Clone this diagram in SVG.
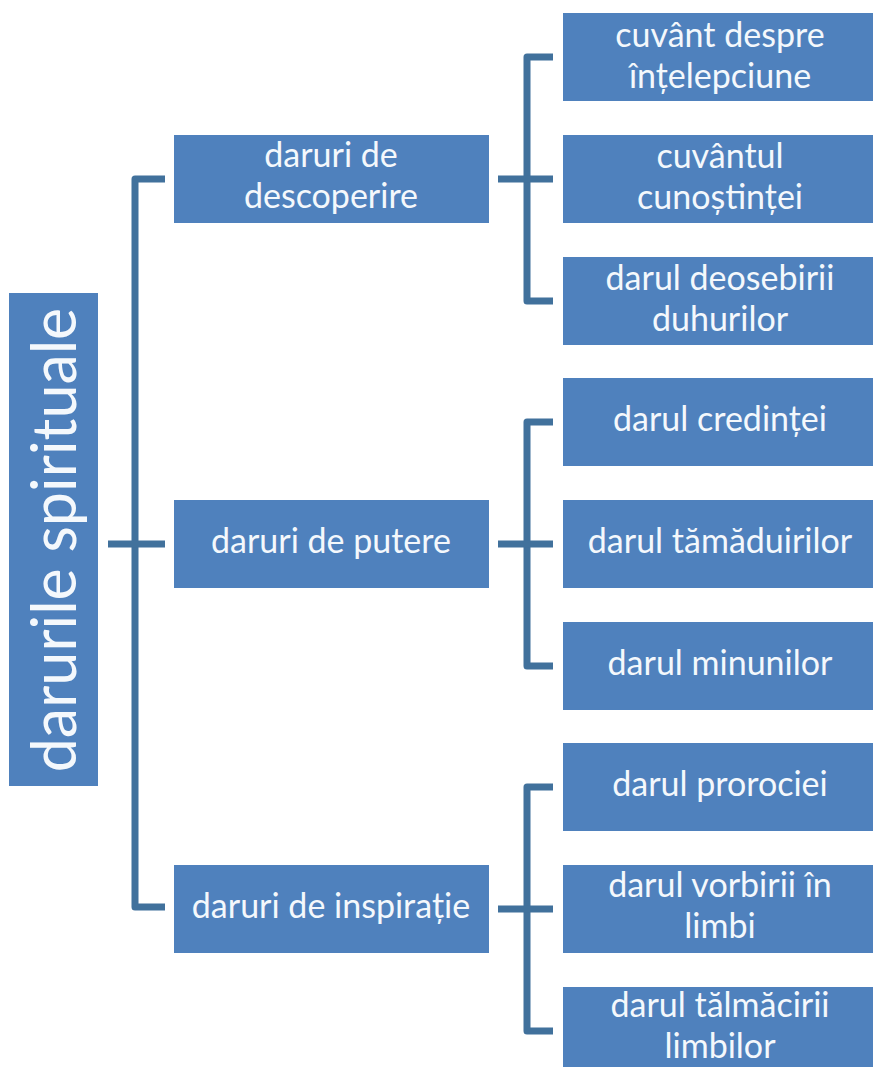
<svg xmlns="http://www.w3.org/2000/svg" width="873" height="1067" viewBox="0 0 873 1067">
<style>
.box{fill:#4F81BD}
.t{fill:#F4F8FC;font-family:Lato,"Liberation Sans",sans-serif;font-size:34px;text-anchor:middle}
.root{fill:#F4F8FC;font-family:Lato,"Liberation Sans",sans-serif;font-size:61px;text-anchor:middle}
.c{fill:none;stroke:#41719C;stroke-width:7;stroke-linejoin:round;stroke-linecap:butt}
</style>
<rect width="873" height="1067" fill="#FFFFFF"/>
<g id="connectors">
<path class="c" d="M165,179 H135 V907 H165"/>
<path class="c" d="M108,544 H165"/>
<path class="c" d="M553,57 H527 V301 H553"/>
<path class="c" d="M498,179 H553"/>
<path class="c" d="M553,422 H527 V666 H553"/>
<path class="c" d="M498,544 H553"/>
<path class="c" d="M553,787 H527 V1031 H553"/>
<path class="c" d="M498,909 H553"/>
</g>
<g id="root"><rect class="box" x="9" y="293" width="89" height="493"/><text class="root" transform="translate(76,540) rotate(-90)">darurile spirituale</text></g>
<g id="n1"><rect class="box" x="174" y="135" width="315" height="88"/><text class="t" x="331" y="167">daruri de</text><text class="t" x="331" y="208">descoperire</text></g>
<g id="n2"><rect class="box" x="174" y="500" width="315" height="88"/><text class="t" x="331" y="553">daruri de putere</text></g>
<g id="n3"><rect class="box" x="174" y="865" width="315" height="88"/><text class="t" x="331" y="918">daruri de inspirație</text></g>
<g id="l1"><rect class="box" x="563" y="13" width="314" height="88"/><text class="t" x="720" y="47">cuvânt despre</text><text class="t" x="720" y="88">înțelepciune</text></g>
<g id="l2"><rect class="box" x="563" y="135" width="314" height="88"/><text class="t" x="720" y="168">cuvântul</text><text class="t" x="720" y="209">cunoștinței</text></g>
<g id="l3"><rect class="box" x="563" y="257" width="314" height="88"/><text class="t" x="720" y="290">darul deosebirii</text><text class="t" x="720" y="331">duhurilor</text></g>
<g id="l4"><rect class="box" x="563" y="378" width="314" height="88"/><text class="t" x="720" y="431">darul credinței</text></g>
<g id="l5"><rect class="box" x="563" y="500" width="314" height="88"/><text class="t" x="720" y="553">darul tămăduirilor</text></g>
<g id="l6"><rect class="box" x="563" y="622" width="314" height="88"/><text class="t" x="720" y="675">darul minunilor</text></g>
<g id="l7"><rect class="box" x="563" y="743" width="314" height="88"/><text class="t" x="720" y="796">darul prorociei</text></g>
<g id="l8"><rect class="box" x="563" y="865" width="314" height="88"/><text class="t" x="720" y="897">darul vorbirii în</text><text class="t" x="720" y="938">limbi</text></g>
<g id="l9"><rect class="box" x="563" y="987" width="314" height="88"/><text class="t" x="720" y="1017">darul tălmăcirii</text><text class="t" x="720" y="1058">limbilor</text></g>
</svg>
